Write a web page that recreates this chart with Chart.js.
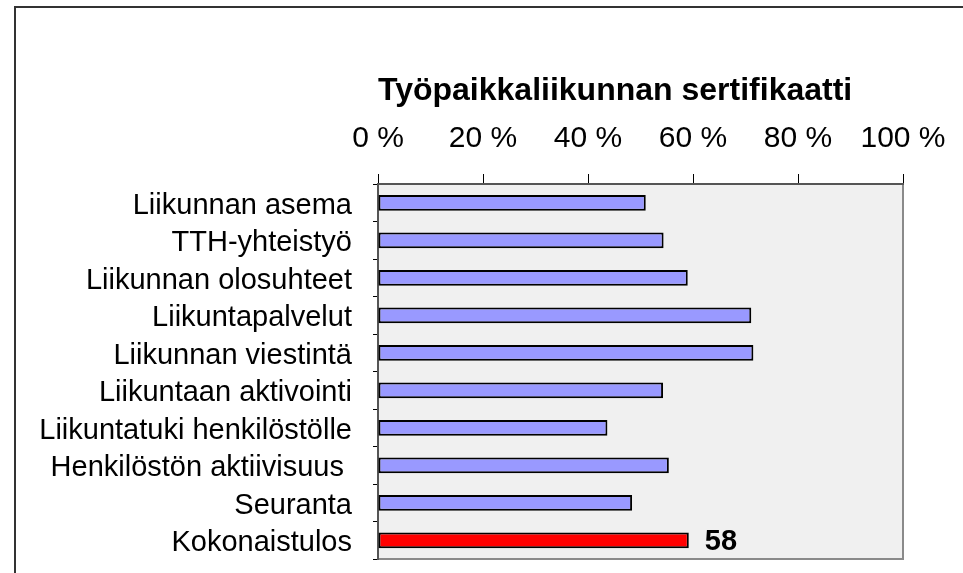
<!DOCTYPE html>
<html><head><meta charset="utf-8">
<script src="https://cdn.jsdelivr.net/npm/chart.js@4"></script>
<style>html,body{margin:0;padding:0;background:#fff}canvas{display:block}</style>
</head><body>
<canvas id="c" width="963" height="573"></canvas>
<script>
const categories = ['Liikunnan asema','TTH-yhteistyö','Liikunnan olosuhteet','Liikuntapalvelut','Liikunnan viestintä','Liikuntaan aktivointi','Liikuntatuki henkilöstölle','Henkilöstön aktiivisuus ','Seuranta','Kokonaistulos'];
const values = [51.0, 54.4, 59.0, 71.1, 71.5, 54.3, 43.7, 55.4, 48.4, 59.2];
const valueLabels = ['', '', '', '', '', '', '', '', '', '58'];
const xTickLabels = ['0 %', '20 %', '40 %', '60 %', '80 %', '100 %'];
const titleText = 'Työpaikkaliikunnan sertifikaatti';

const FONT = "'Liberation Sans', Arial, sans-serif";
const TITLE_SIZE = 32, TITLE_PAD_TOP = 72, TITLE_PAD_BOTTOM = 7;
const AREA_TOP = 184, AREA_LEFT = 378;

const barColors = categories.map((c, i) => i === categories.length - 1 ? '#FF0000' : '#9999FF');

const framePlugin = {
  id: 'frame',
  beforeDraw(chart) {
    const ctx = chart.ctx, a = chart.chartArea;
    ctx.save();
    ctx.fillStyle = '#fff';
    ctx.fillRect(0, 0, chart.width, chart.height);
    ctx.strokeStyle = '#333';
    ctx.lineWidth = 2;
    ctx.strokeRect(15, 7, 2000, 2000);
    ctx.fillStyle = '#F0F0F0';
    ctx.fillRect(a.left, a.top, a.right - a.left, a.bottom - a.top);
    ctx.strokeStyle = '#8a8a8a';
    ctx.lineWidth = 2;
    ctx.beginPath();
    ctx.moveTo(a.right, a.top);
    ctx.lineTo(a.right, a.bottom);
    ctx.lineTo(a.left, a.bottom);
    ctx.stroke();
    ctx.restore();
  }
};

const labelPlugin = {
  id: 'valueLabels',
  afterDatasetsDraw(chart) {
    const ctx = chart.ctx;
    const meta = chart.getDatasetMeta(0);
    ctx.save();
    ctx.font = 'bold 29px ' + FONT;
    ctx.fillStyle = '#000';
    ctx.textBaseline = 'middle';
    ctx.textAlign = 'left';
    meta.data.forEach((bar, i) => {
      if (valueLabels[i]) ctx.fillText(valueLabels[i], bar.x + 16, bar.y + 2);
    });
    ctx.restore();
  }
};

new Chart(document.getElementById('c'), {
  type: 'bar',
  data: {
    labels: categories,
    datasets: [{
      data: values,
      backgroundColor: barColors,
      borderColor: '#000',
      borderWidth: 2,
      borderSkipped: false,
      barPercentage: 0.42,
      categoryPercentage: 1
    }]
  },
  options: {
    indexAxis: 'y',
    responsive: false,
    animation: false,
    devicePixelRatio: 1,
    layout: { autoPadding: false, padding: { left: 0, right: 60, top: 0, bottom: 14 } },
    plugins: {
      legend: { display: false },
      tooltip: { enabled: false },
      title: {
        display: true,
        text: titleText,
        align: 'start',
        fullSize: false,
        color: '#000',
        font: { family: FONT, size: TITLE_SIZE, weight: 'bold' },
        padding: { top: TITLE_PAD_TOP, bottom: TITLE_PAD_BOTTOM }
      }
    },
    scales: {
      x: {
        position: 'top',
        min: 0, max: 100,
        ticks: {
          stepSize: 20,
          color: '#000',
          padding: 17,
          maxRotation: 0,
          font: { family: FONT, size: 30 },
          callback: (v, i) => xTickLabels[i]
        },
        grid: { drawOnChartArea: false, drawTicks: true, tickLength: 10, color: '#000', lineWidth: 1 },
        border: { display: true, color: '#555', width: 2 },
        afterFit(scale) {
          scale.height = AREA_TOP - (TITLE_PAD_TOP + TITLE_SIZE * 1.2 + TITLE_PAD_BOTTOM);
          scale.paddingLeft = 0; scale.paddingRight = 0;
        }
      },
      y: {
        ticks: {
          color: '#000',
          padding: 21,
          labelOffset: 3,
          font: { family: FONT, size: 29 },
          autoSkip: false
        },
        grid: { offset: true, drawOnChartArea: false, drawTicks: true, tickLength: 5, color: '#000', lineWidth: 1 },
        border: { display: true, color: '#555', width: 2 },
        afterFit(scale) {
          scale.width = AREA_LEFT;
          scale.paddingTop = 0; scale.paddingBottom = 0;
        }
      }
    }
  },
  plugins: [framePlugin, labelPlugin]
});
</script>
</body></html>
